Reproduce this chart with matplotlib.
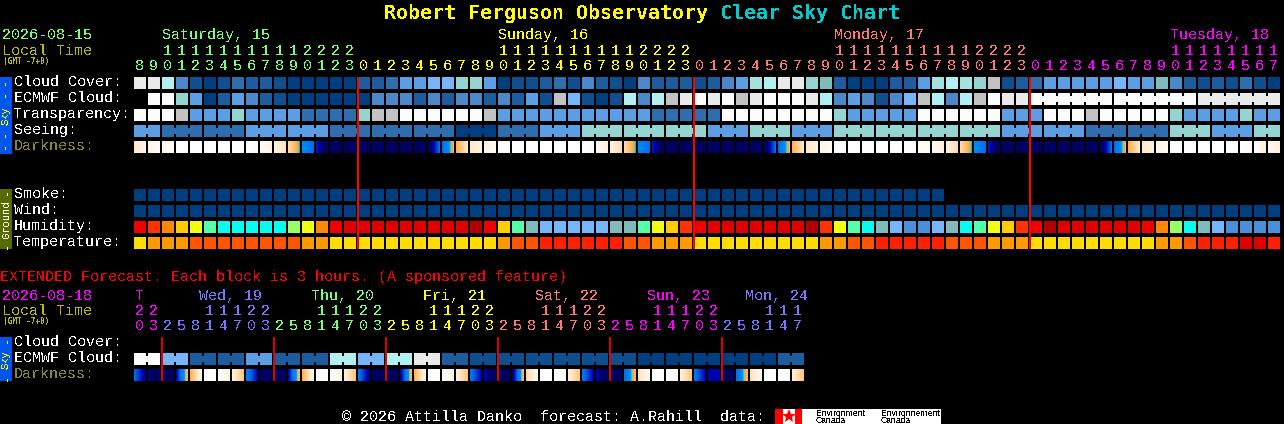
import numpy as np
import matplotlib
matplotlib.use("Agg")
import matplotlib.pyplot as plt
from matplotlib.colors import LinearSegmentedColormap

# ---------- data (levels) ----------
cloud_palette = ['#003F7F', '#0F4F90', '#1D5D9F', '#2E6DAE', '#4A88CA', '#5C9EE3', '#77B5FA',
                 '#7FBBBB', '#94D5D2', '#A5E0E0', '#B0F0F0', '#C2C2C2', '#EAEAEA', '#FCFCFC']

cloud_cover = [12, 12, 10, 4, 1, 0, 1, 3, 2, 2, 1, 0, 0, 0, 0, 0,
               2, 2, 3, 5, 5, 6, 6, 8, 8, 5, 0, 1, 1, 2, 3, 1, 4, 2, 1, 0, 4, 2, 2, 2,
               1, 2, 4, 5, 9, 10, 12, 12, 8, 7, 2, 0, 0, 0, 2, 2, 5, 9, 10, 9, 8, 11, 1, 2,
               3, 5, 5, 5, 5, 5, 6, 5, 5, 7, 4, 2, 1, 2, 1, 3, 1, 0]
ecmwf_cloud = [-1, 13, 13, 8, 5, 0, 2, 5, 4, 2, 1, 0, 0, 0, 0, 0,
               0, 4, 4, 4, 2, 4, 2, 4, 4, 2, 4, 2, 5, 1, 11, 6, 1, 0, 1, 10, 4, 10, 11, 12,
               13, 12, 13, 11, 12, 13, 13, 13, 12, 10, 4, 5, 4, 1, 4, 6, 11, 10, 4, 10, 11, 13, 12, 12,
               13, 13, 13, 13, 13, 13, 13, 13, 13, 13, 13, 13, 12, 12, 12, 12, 12, 12]
transparency = [13, 13, 13, 11, 5, 5, 5, 8, 5, 5, 5, 5, 3, 3, 3, 3,
                8, 11, 11, 13, 13, 13, 13, 13, 13, 11, 5, 5, 5, 5, 5, 5, 5, 5, 5, 5, 5, 3, 3, 3,
                3, 3, 13, 13, 13, 13, 13, 13, 13, 13, 8, 5, 5, 5, 5, 5, 13, 13, 13, 13, 13, 13, 5, 5,
                5, 13, 13, 13, 11, 13, 13, 13, 13, 13, 8, 5, 5, 5, 5, 8, 5, 5]
seeing = [5, 5, 3, 3, 3, 3, 3, 3, 5, 5, 5, 5, 5, 5, 3, 3,
          3, 3, 3, 3, 3, 3, 3, 0, 0, 0, 3, 3, 3, 5, 5, 5, 8, 8, 8, 8, 8, 8, 8, 8,
          8, 5, 5, 5, 8, 8, 8, 5, 5, 5, 8, 8, 8, 8, 8, 8, 8, 8, 8, 8, 8, 8, 5, 5,
          5, 5, 5, 5, 3, 3, 3, 3, 3, 3, 8, 8, 8, 5, 5, 5, 8, 8]
seeing_group_starts = [0, 2, 5, 8, 11, 14, 17, 20, 23, 26, 29, 32, 35, 38, 41, 44, 47, 50, 53, 56,
                       59, 62, 65, 68, 71, 74, 77, 80]
ecmwf_group_starts = [64, 70, 76]

dark_stops = [0, 1, 2, 2.6, 2.85, 3, 4, 5, 5.5, 6]
dark_colors = ['#FFFFFF', '#FFE9C9', '#FFC070', '#FFAA40', '#30C8C8', '#0090FF', '#0070EE', '#0000B0', '#000060', '#000060']
dark_left = [1.0, .5, .3, 0, 0, 0, 0, 0, 0, .2, .6, 1.3, 3.3, 4.8, 6, 6, 6, 6, 6, 6, 6, 5.9, 4.0, 2.4, 1.0, .5,
             .1, 0, 0, 0, 0, 0, 0, .25, .6, 1.3, 3.3, 4.8, 6, 6, 6, 6, 6, 6, 6, 5.9, 4.0, 2.4, 1.0, .5,
             .1, 0, 0, 0, 0, 0, 0, .25, .6, 1.3, 3.3, 4.8, 6, 6, 6, 6, 6, 6, 6, 5.9, 4.0, 2.4, 1.0, .5,
             .1, 0, 0, 0, 0, 0, 0, .3]
dark_right = [.4, .1, 0, 0, 0, 0, 0, 0, .2, .5, 1.2, 2.9, 4, 5.8, 6, 6, 6, 6, 6, 6, 6, 4.0, 2.4, 1.0, .6, .15,
              0, 0, 0, 0, 0, 0, .2, .6, 1.3, 2.9, 4, 5.8, 6, 6, 6, 6, 6, 6, 6, 4.0, 2.4, 1.0, .6, .15,
              0, 0, 0, 0, 0, 0, .3, .6, 1.3, 2.9, 4, 5.8, 6, 6, 6, 6, 6, 6, 6, 4.0, 2.4, 1.0, .6, .15,
              0, 0, 0, 0, 0, .25, .7, .7][:82]

smoke = [0] * 58
wind = [0] * 82

hum_palette = ['#B00000', '#E00000', '#F00000', '#FF3300', '#FF8800', '#FFCC00', '#EEFF11', '#99FF66',
               '#55FFAA', '#00FFEE', '#80BBBB', '#77B5FA', '#4A8FD8']
humidity = [2, 3, 4, 5, 6, 8, 9, 9, 9, 9, 9, 7, 6, 4, 2, 1,
            1, 1, 1, 1, 1, 1, 1, 1, 0, 2, 5, 8, 10, 11, 11, 11, 11, 11, 10, 10, 8, 6, 5, 3,
            2, 1, 1, 1, 1, 1, 1, 1, 0, 3, 6, 8, 9, 10, 11, 12, 12, 11, 10, 9, 8, 6, 5, 3,
            2, 0, 1, 1, 1, 1, 1, 1, 2, 4, 7, 9, 10, 11, 12, 12, 12, 12]
temp_palette = ['#FFDD00', '#FF9900', '#FF5500', '#FF2000', '#E00000']
temperature = [0, 1, 1, 1, 2, 2, 2, 2, 2, 2, 2, 2, 1, 1, 0, 0,
               0, 0, 0, 0, 0, 0, 0, 0, 0, 0, 1, 2, 2, 3, 3, 3, 3, 3, 3, 2, 2, 1, 1, 1,
               0, 0, 0, 0, 0, 0, 0, 0, 0, 1, 1, 2, 2, 3, 3, 3, 3, 3, 2, 2, 2, 1, 1, 1,
               0, 0, 0, 0, 0, 0, 0, 0, 0, 1, 1, 2, 3, 3, 3, 4, 4, 3]

hours = [8, 9, 10, 11, 12, 13, 14, 15, 16, 17, 18, 19, 20, 21, 22, 23] + list(range(24)) + list(range(24)) + list(range(18))
hour_colors = ['#77FF77'] * 16 + ['#FFFF00'] * 24 + ['#FF7777'] * 24 + ['#FF00FF'] * 18
day_labels = ['Saturday, 15', 'Sunday, 16', 'Monday, 17', 'Tuesday, 18']
day_cells = [2, 26, 50, 74]
day_colors = ['#77FF77', '#FFFF00', '#FF7777', '#FF00FF']
midnights = [16, 40, 64]

ext_ecmwf = [13, 6, 2, 2, 5, 2, 2, 10, 6, 10, 12, 2, 1, 1, 1, 1, 1, 1, 0, 0, 0, 0, 0, 2]
ext_dark_left = [4, 5.2, 6, 5, 2.4, 0, 0, .7, 3.5, 6, 6, 5, 2.4, 0, 0, .7, 3.8, 5.8, 6, 5.2, 2.4, 0, 0, .7,
                 3.8, 5, 6, 5.5, 1.5, 0, 0, .7, 3.8, 5, 6, 4, 1.2, 0, 0, .7, 3.8, 5, 5.6, 4, 1.2, 0, 0, .8]
ext_dark_right = [5.3, 6, 6, 2.2, .3, 0, .6, 1.9, 5, 6, 6, 2.2, .3, 0, .6, 1.9, 5.3, 6, 6, 2.2, .3, 0, .6, 1.9,
                  5, 5.8, 6, 2.2, .2, 0, .2, 1.9, 5, 5.8, 6, 2.2, .2, 0, .3, 1.9, 5, 5, 6, 2.2, .2, 0, .2, 1.9]
ext_hours = [20, 23] + [2, 5, 8, 11, 14, 17, 20, 23] * 5 + [2, 5, 8, 11, 14, 17]
ext_colors = ['#FF00FF'] * 2 + ['#7777FF'] * 8 + ['#77FF77'] * 8 + ['#FFFF00'] * 8 + ['#FF7777'] * 8 + ['#FF00FF'] * 8 + ['#7777FF'] * 6
ext_day_labels = ['T', 'Wed, 19', 'Thu, 20', 'Fri, 21', 'Sat, 22', 'Sun, 23', 'Mon, 24']
ext_day_x = [135, 199, 311, 423, 535, 647, 745]
ext_day_colors = ['#FF00FF', '#7777FF', '#77FF77', '#FFFF00', '#FF7777', '#FF00FF', '#7777FF']
ext_midnights = [2, 10, 18, 26, 34, 42]

# ---------- layout ----------
X0, PITCH, W, H = 134, 14, 12, 12
MONO = 'Liberation Mono'
BODY = 10.8
fig = plt.figure(figsize=(12.84, 4.24), dpi=100, facecolor='black')
ax = fig.add_axes([0, 0, 1, 1], facecolor='black')
ax.axis('off')


def t(x, y, s, c='white', size=BODY, weight='normal', family=MONO, **kw):
    return ax.text(x, y, s, color=c, fontsize=size, family=family, weight=weight, va='baseline', ha='left',
                   antialiased=False, **kw)


def cells(y, vals, palette):
    idx = [i for i, v in enumerate(vals) if v >= 0]
    ax.bar([X0 + PITCH * i for i in idx], H, W, y, align='edge', linewidth=0, antialiased=False,
           color=[palette[vals[i]] for i in idx])


def necks(y, vals, palette, starts, end):
    for a, b in zip(starts, starts[1:] + [end]):
        for i in range(a, b - 1):
            ax.bar(X0 + PITCH * i + W, 6, 2, y + 3, align='edge', linewidth=0, antialiased=False,
                   color=palette[vals[i]])


cmap = LinearSegmentedColormap.from_list('dark', [(s / 6, c) for s, c in zip(dark_stops, dark_colors)], N=1024)


def dark(y, left, right):
    for i, (l, r) in enumerate(zip(left, right)):
        ax.imshow(np.linspace(l, r, W)[None, :], cmap=cmap, vmin=0, vmax=6, aspect='auto', interpolation='nearest',
                  extent=(X0 + PITCH * i, X0 + PITCH * i + W, y + H, y))


# main sky rows
cells(77, cloud_cover, cloud_palette)
cells(93, ecmwf_cloud, cloud_palette)
necks(93, ecmwf_cloud, cloud_palette, ecmwf_group_starts, 82)
cells(109, transparency, cloud_palette)
cells(125, seeing, cloud_palette)
necks(125, seeing, cloud_palette, seeing_group_starts, 82)
dark(141, dark_left, dark_right)

# ground rows
cells(189, smoke, cloud_palette)
cells(205, wind, cloud_palette)
cells(221, humidity, hum_palette)
cells(237, temperature, temp_palette)

# extended rows: each ECMWF value spans two 3-hour blocks
ext_cells = [v for v in ext_ecmwf for _ in range(2)]
cells(353, ext_cells, cloud_palette)
necks(353, ext_cells, cloud_palette, list(range(0, 48, 2)), 48)
dark(369, ext_dark_left, ext_dark_right)

# midnight lines
for m in midnights:
    ax.bar(X0 + PITCH * m - 1, 172, 2, 77, align='edge', color='#FF0000', linewidth=0, antialiased=False, zorder=5)
for m in ext_midnights:
    ax.bar(X0 + PITCH * m - 1, 44, 2, 337, align='edge', color='#E00000', linewidth=0, antialiased=False, zorder=5)

# side bars
for y0, h, col in [(77, 77, '#0055EE'), (189, 60, '#556B00'), (337, 44, '#0055EE')]:
    ax.bar(0, h, 12, y0, align='edge', color=col, linewidth=0, antialiased=False)


def side(y, s, c):
    ax.text(6, y, s, color=c, fontsize=7.6, family=MONO, rotation=90, ha='center', va='center', antialiased=False)


side(115.5, 'Sky', '#FFFF00')
side(90, '- -', '#FFFF00')
side(142, '- -', '#FFFF00')
side(219.5, 'Ground', '#FFFFFF')
side(192, '-', '#FFFFFF')
side(246, '-', '#FFFFFF')
side(359.5, 'Sky', '#FFFF00')
side(340, '-', '#FFFF00')
side(378, '-', '#FFFF00')

# title
t(384, 19, 'Robert Ferguson Observatory', '#FFFF00', 14.4, 'bold', 'DejaVu Sans Mono')
t(720, 19, 'Clear Sky Chart', '#00CCCC', 14.4, 'bold', 'DejaVu Sans Mono')

# header
t(2, 39, '2026-08-15', '#77FF77')
t(2, 55, 'Local Time', '#BBBB00')
t(3, 64, '(GMT -7+0)', '#BBBB00', 5.6, 'bold', 'DejaVu Sans Mono')
for s, i, c in zip(day_labels, day_cells, day_colors):
    t(X0 + PITCH * i, 39, s, c)
for i, (h, c) in enumerate(zip(hours, hour_colors)):
    cx = X0 + PITCH * i + 1
    if h >= 10:
        t(cx, 55, str(h // 10), c)
    t(cx, 70, str(h % 10), c)

for lab, y, c in [('Cloud Cover:', 86, 'white'), ('ECMWF Cloud:', 102, 'white'), ('Transparency:', 118, 'white'),
                  ('Seeing:', 134, 'white'), ('Darkness:', 150, '#888833'), ('Smoke:', 198, 'white'),
                  ('Wind:', 214, 'white'), ('Humidity:', 230, 'white'), ('Temperature:', 246, 'white'),
                  ('Cloud Cover:', 346, 'white'), ('ECMWF Cloud:', 362, 'white'), ('Darkness:', 378, '#888833')]:
    t(14, y, lab, c)

# extended header
t(0, 281, 'EXTENDED Forecast. Each block is 3 hours. (A sponsored feature)', '#FF0000')
t(2, 300, '2026-08-18', '#FF00FF')
t(2, 315, 'Local Time', '#BBBB00')
t(3, 324, '(GMT -7+0)', '#BBBB00', 5.6, 'bold', 'DejaVu Sans Mono')
for s, x, c in zip(ext_day_labels, ext_day_x, ext_day_colors):
    t(x, 300, s, c)
for i, (h, c) in enumerate(zip(ext_hours, ext_colors)):
    cx = X0 + PITCH * i + 1
    if h >= 10:
        t(cx, 315, str(h // 10), c)
    t(cx, 330, str(h % 10), c)

# footer
t(342, 421, '\u00a9 2026 Attilla Danko  forecast: A.Rahill  data:', 'white')
ax.bar(775, 15, 166, 409, align='edge', color='white', linewidth=0, antialiased=False)
ax.bar(775, 15, 8, 409, align='edge', color='#FF0000', linewidth=0, antialiased=False)
ax.bar(795, 15, 7, 409, align='edge', color='#FF0000', linewidth=0, antialiased=False)
ax.plot([788.5], [416], marker='*', ms=10, color='#FF0000', mew=0)
for x, a in [(816, 'Environment'), (881, 'Environnement')]:
    ax.text(x, 416, a, color='black', fontsize=6.2, family='Liberation Sans', antialiased=False)
    ax.text(x, 423, 'Canada', color='black', fontsize=6.2, family='Liberation Sans', antialiased=False)

ax.set_xlim(0, 1284)
ax.set_ylim(424, 0)
fig.savefig('out.png', dpi=100, facecolor='black')
